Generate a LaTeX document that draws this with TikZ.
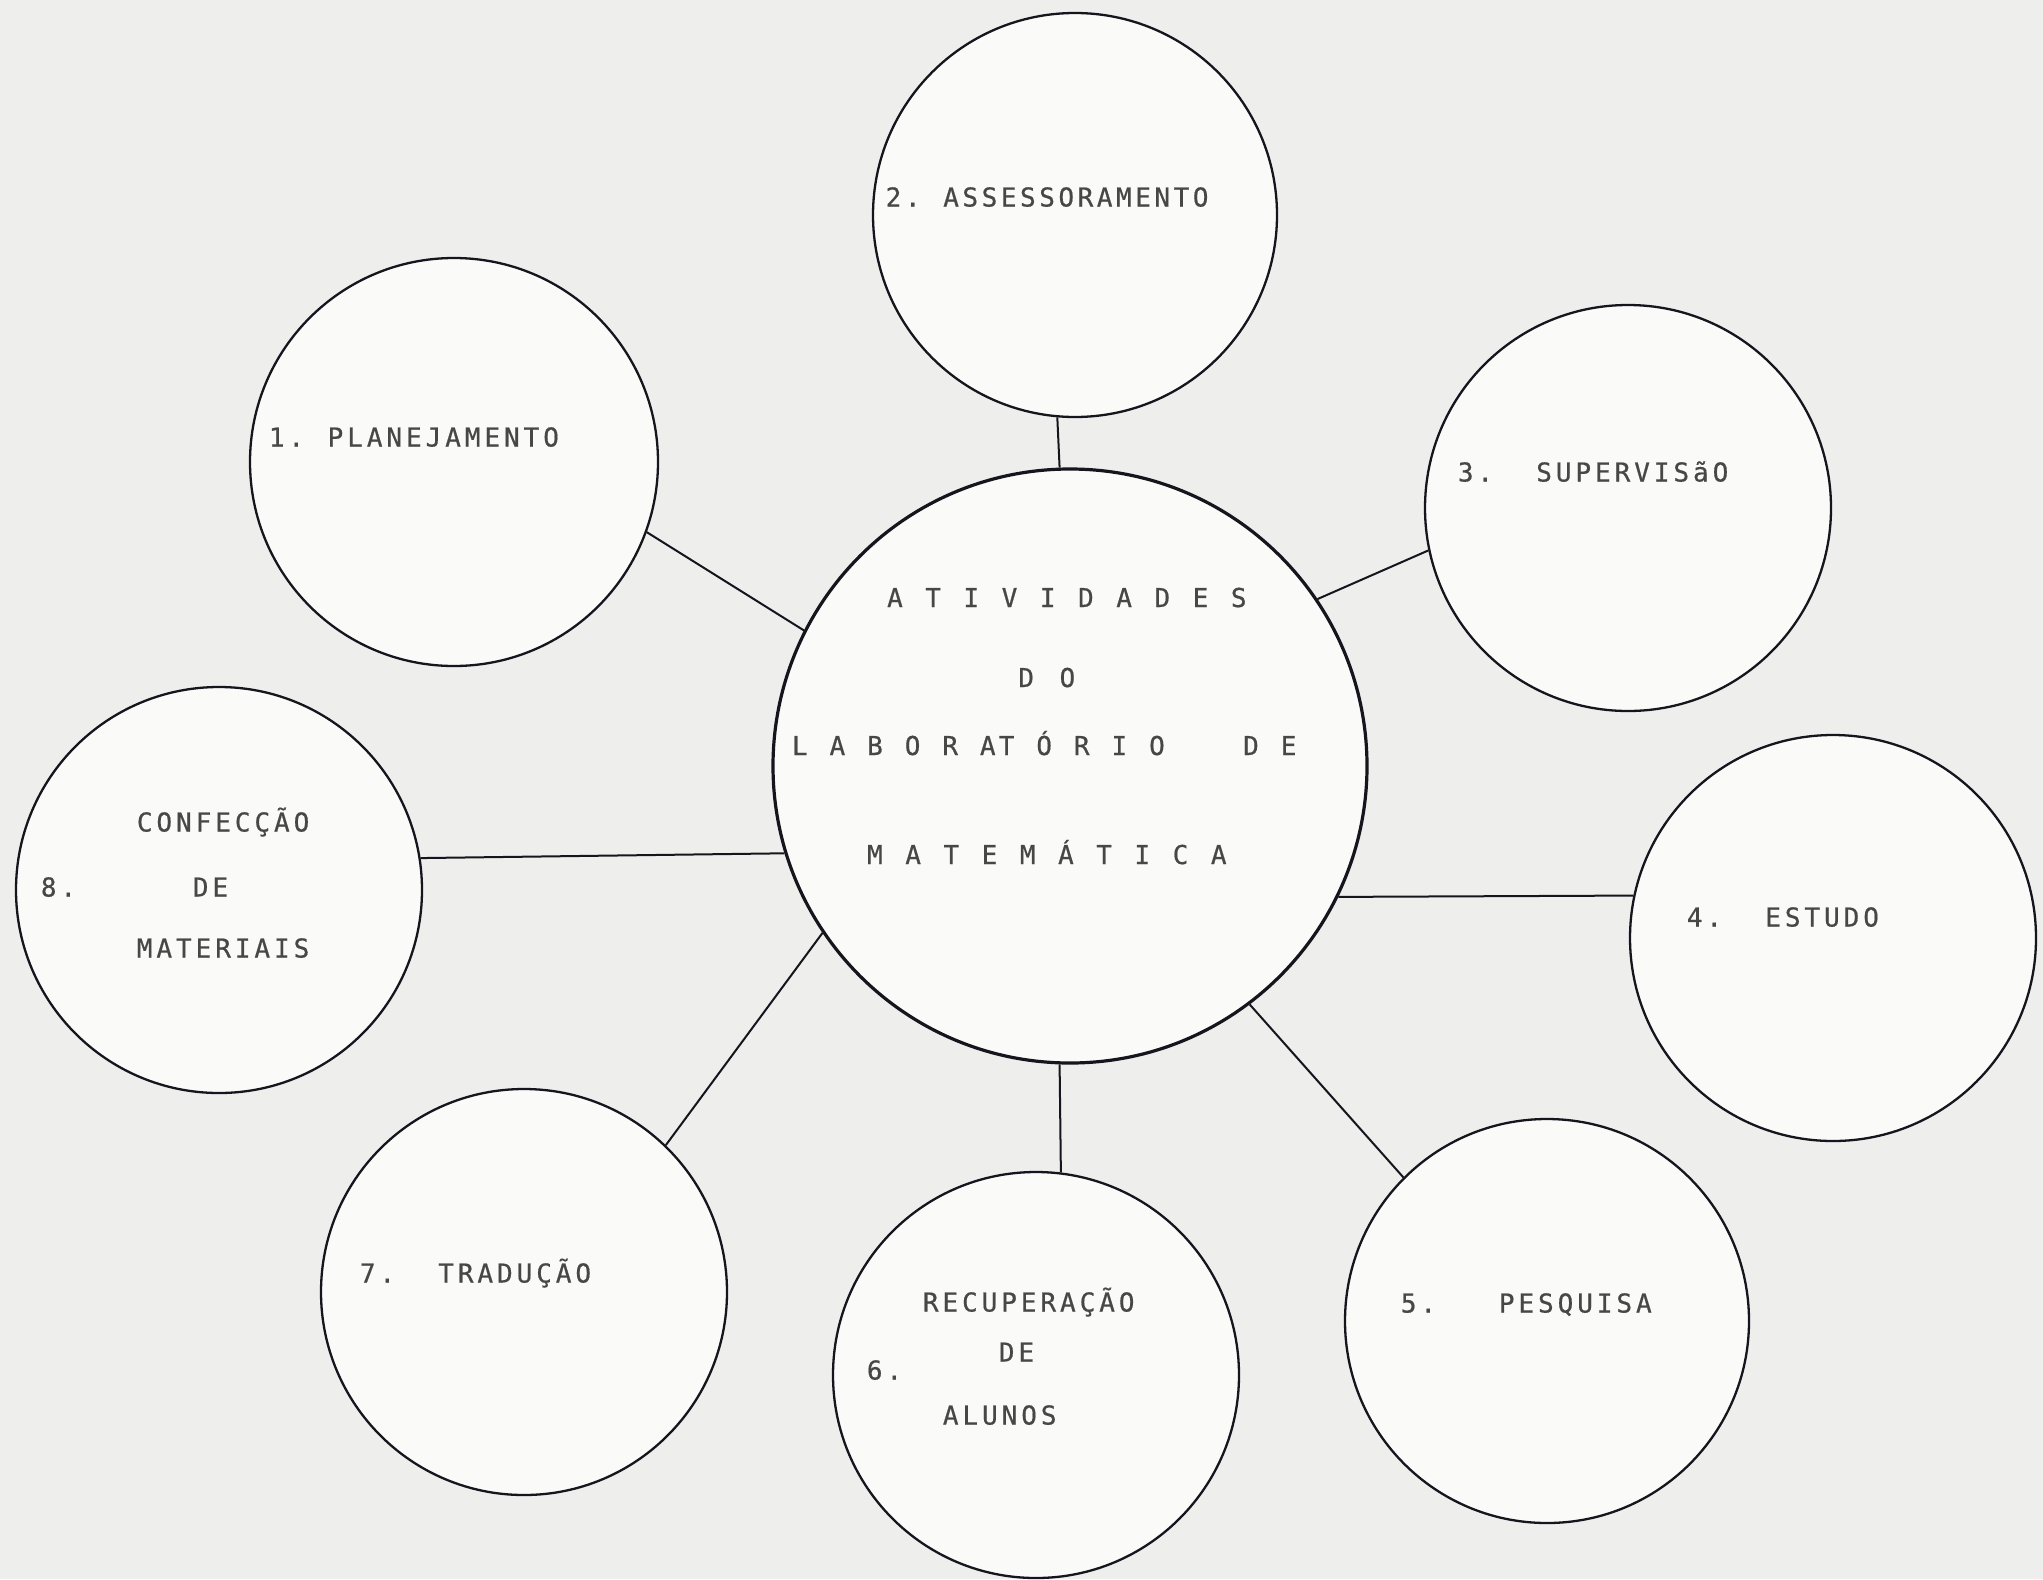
\documentclass[tikz,border=0pt]{standalone}
\usepackage{fontspec}
\newfontfamily\twfont[FakeBold=0.6]{DejaVu Sans Mono}
\definecolor{ink}{HTML}{15151D}
\definecolor{txt}{HTML}{474747}
\definecolor{paper}{HTML}{EEEEEC}
\definecolor{inside}{HTML}{FAFAF8}
\newlength\twpitch
\makeatletter
\def\tw@stop{\tw@stop}
\def\tw@run#1{\ifx#1\tw@stop\else\makebox[\twpitch][c]{#1}\expandafter\tw@run\fi}
\newcommand\tws[2][9.8pt]{\setlength\twpitch{#1}\tw@run#2\tw@stop}
\makeatother
\begin{document}
\begin{tikzpicture}[x=0.5pt,y=-0.5pt,
  bub/.style={circle,draw=ink,line width=1.15pt,fill=inside,minimum size=#1,inner sep=0pt},
  lab/.style={anchor=base west,inner sep=0pt,text=txt,font=\twfont\fontsize{13pt}{15pt}\selectfont},
  link/.style={draw=ink,line width=1pt}]
\fill[paper] (0,0) rectangle (2043,1579);
\useasboundingbox (0,0) rectangle (2043,1579);
% circles
\node[bub=297pt,line width=1.6pt] (c0) at (1070,766) {};
\node[bub=204pt] (c1) at (454,462) {};
\node[bub=202pt] (c2) at (1075,215) {};
\node[bub=203pt] (c3) at (1628,508) {};
\node[bub=203pt] (c4) at (1833,938) {};
\node[bub=202pt] (c5) at (1547,1321) {};
\node[bub=203pt] (c6) at (1036,1375) {};
\node[bub=203pt] (c7) at (524,1292) {};
\node[bub=203pt] (c8) at (219,890) {};
% connectors
\draw[link] (c1.-20.8) -- (c0.153.8);
\draw[link] (c2.-95.1) -- (c0.92.5);
\draw[link] (c0.34.9) -- (c3.192.9);
\draw[link] (c0.-26.1) -- (c4.168.5);
\draw[link] (c0.-53.4) -- (c5.135.2);
\draw[link] (c0.-92.0) -- (c6.83.4);
\draw[link] (c0.214.5) -- (c7.46.8);
\draw[link] (c8.9.7) -- (c0.197.5);
% central text
\node[lab] (m1) at (885,607) {\tws[9.55pt]{A~T~I~V~I~D~A~D~E~S}};
\node[lab] (m2) at (1015.5,687) {\tws[10.3pt]{D~O}};
\node[lab] (m3) at (790,755) {\tws[9.4pt]{L~A~B~O~R~AT~Ó~R~I~O~~~~D~E}};
\node[lab] (m4) at (865,864) {\tws[9.55pt]{M~A~T~E~M~Á~T~I~C~A}};
% satellite texts
\node[lab] (t1) at (266.5,446.5) {\tws{1.~PLANEJAMENTO}};
\node[lab] (t2) at (883.5,206.5) {\tws[9.6pt]{2.~ASSESSORAMENTO}};
\node[lab] (t3) at (1455.5,481.5) {\tws{3.~~SUPERVISãO}};
\node[lab] (t4) at (1684.5,926.5) {\tws{4.~~ESTUDO}};
\node[lab] (t5) at (1398.5,1312.5) {\tws{5.~~~PESQUISA}};
\node[lab] (t6a) at (920.5,1311.5) {\tws{RECUPERAÇÃO}};
\node[lab] (t6b) at (996.5,1361.5) {\tws{DE}};
\node[lab] (t6c) at (864.5,1379.5) {\tws{6.}};
\node[lab] (t6d) at (940.5,1424.5) {\tws{ALUNOS}};
\node[lab] (t7) at (357.5,1282.5) {\tws{7.~~TRADUÇÃO}};
\node[lab] (t8a) at (134.5,831.5) {\tws{CONFECÇÃO}};
\node[lab] (t8b) at (38.5,896.5) {\tws{8.}};
\node[lab] (t8c) at (190.5,896.5) {\tws{DE}};
\node[lab] (t8d) at (134.5,957.5) {\tws{MATERIAIS}};
\end{tikzpicture}
\end{document}
